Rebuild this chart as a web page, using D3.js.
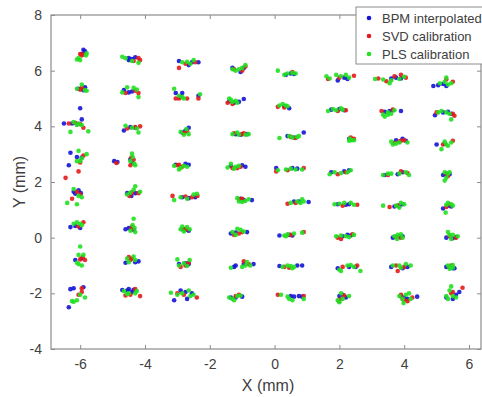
<!DOCTYPE html>
<html>
<head>
<meta charset="utf-8">
<script src="https://cdn.jsdelivr.net/npm/d3@7"></script>
<style>
  body { margin: 0; background: #fff; }
  svg { display: block; font-family: "Liberation Sans", Arial, sans-serif; }
</style>
</head>
<body>
<svg id="chart" width="482" height="397"></svg>
<script>
var bpm = [
  [-5.9,6.75],[-5.85,6.7],[-5.95,6.6],
  [-6.05,5.35],[-5.85,5.4],[-5.9,5.3],
  [-6.5,4.1],[-6.0,4.65],[-5.95,4.25],[-6.25,4.1],[-6.1,4.08],
  [-6.3,3.05],[-6.35,2.6],[-6.1,2.9],[-5.95,2.88],
  [-6.2,1.65],[-6.05,1.7],[-5.98,1.6],[-6.15,1.58],
  [-6.3,0.38],[-6.15,0.42],[-6.0,0.35],
  [-6.15,-0.8],[-5.95,-0.75],
  [-6.3,-1.85],[-6.2,-1.82],[-5.9,-1.78],[-6.35,-2.5],
  [-4.5,6.38],[-4.4,6.42],[-4.3,6.48],[-4.5,6.45],
  [-4.65,5.3],[-4.5,5.22],[-4.4,5.25],
  [-4.65,3.85],[-4.45,3.97],[-4.3,3.95],
  [-4.95,2.75],[-4.85,2.72],[-4.45,2.82],[-4.4,2.7],
  [-4.55,1.6],[-4.42,1.5],[-4.3,1.6],
  [-4.6,0.3],[-4.5,0.35],[-4.35,0.28],
  [-4.6,-0.9],[-4.3,-0.88],[-4.2,-0.85],
  [-4.7,-1.88],[-4.5,-1.85],[-4.35,-1.87],[-4.55,-1.9],[-4.4,-1.95],
  [-2.95,6.35],[-2.65,6.2],[-2.55,6.3],[-2.35,6.3],
  [-3.05,5.2],[-2.85,5.2],[-2.9,5.05],[-2.35,5.1],
  [-2.75,3.85],[-2.65,3.95],[-2.85,3.78],
  [-3.05,2.62],[-2.75,2.65],[-2.65,2.62],
  [-2.85,1.45],[-2.65,1.42],[-2.45,1.45],
  [-2.85,0.3],[-2.65,0.25],[-2.75,0.28],
  [-2.95,-0.95],[-2.65,-0.95],[-2.75,-0.92],
  [-2.9,-1.9],[-3.1,-2.25],[-2.7,-2.2],[-2.75,-1.95],[-2.55,-2.0],
  [-1.3,6.1],[-1.05,5.95],[-0.95,6.1],
  [-1.25,4.85],[-1.1,4.88],[-0.95,4.98],[-1.4,4.9],
  [-1.2,3.72],[-0.85,3.72],[-1.05,3.7],
  [-1.35,2.58],[-1.0,2.6],[-0.9,2.55],
  [-1.05,1.4],[-0.7,1.35],[-0.95,1.35],
  [-1.35,0.15],[-1.2,0.18],[-0.85,0.2],
  [-1.25,-1.05],[-1.2,-1.0],[-0.95,-0.95],[-0.65,-0.95],
  [-1.35,-2.15],[-1.2,-2.15],[-1.0,-2.12],
  [0.35,5.85],[0.5,5.9],[0.6,5.88],
  [0.45,4.65],[0.3,4.72],
  [0.4,3.65],[0.9,3.78],[0.6,3.6],
  [0.05,2.5],[0.55,2.5],[0.7,2.48],
  [0.6,1.3],[0.75,1.3],[1.05,1.28],
  [0.15,0.08],[0.45,0.1],[0.55,0.08],
  [0.15,-1.02],[0.7,-1.0],[0.85,-1.0],
  [0.5,-2.1],[0.6,-2.12],[0.75,-2.1],[0.85,-2.12],
  [1.95,5.65],[2.15,5.75],[2.25,5.7],
  [1.75,4.6],[2.0,4.62],[2.15,4.58],
  [2.3,3.55],[2.4,3.52],
  [1.75,2.35],[2.15,2.38],[2.3,2.42],
  [1.95,1.2],[2.2,1.18],[2.3,1.2],
  [2.1,0.05],[2.25,0.1],[2.35,0.08],
  [1.95,-1.1],[2.3,-1.05],[2.5,-1.05],
  [2.0,-2.1],[2.1,-2.05],[2.2,-2.15],
  [3.6,5.72],[3.75,5.75],[3.9,5.72],
  [3.4,4.52],[3.55,4.55],[3.65,4.58],[3.9,4.55],
  [3.75,3.5],[3.95,3.55],[4.05,3.48],
  [3.4,2.25],[3.8,2.28],[3.95,2.35],
  [3.7,1.12],[3.85,1.15],[3.95,1.2],
  [3.65,0.0],[3.85,0.02],[3.95,0.05],
  [3.6,-1.05],[3.95,-1.1],[4.1,-1.05],
  [3.9,-2.1],[4.1,-2.2],[4.4,-2.12],[4.0,-2.15],
  [4.9,5.45],[5.05,5.48],[5.2,5.52],[5.3,5.45],
  [4.95,4.4],[5.2,4.5],[5.35,4.52],[5.45,4.45],
  [5.0,3.35],[5.25,3.38],
  [5.2,2.25],[5.3,2.28],[5.4,2.28],
  [5.2,1.05],[5.35,1.15],[5.45,1.12],
  [5.3,0.0],[5.5,-0.02],[5.6,0.02],
  [5.3,-1.05],[5.5,-1.1],[5.55,-1.1],
  [5.3,-2.15],[5.5,-2.2],[5.6,-2.05],[5.7,-1.95]
];

var svd = [
  [-6.0,6.6],[-5.95,6.55],[-5.9,6.58],
  [-6.0,5.32],[-5.95,5.38],
  [-6.35,4.1],[-6.15,4.12],[-5.9,3.95],[-6.0,4.08],
  [-6.45,2.15],[-6.05,2.38],[-5.9,2.95],[-6.0,2.7],
  [-6.1,1.65],[-6.0,1.55],[-6.25,1.4],
  [-5.9,0.55],[-6.05,0.4],
  [-5.85,-0.8],[-5.92,-0.7],[-6.0,-0.78],
  [-5.95,-1.82],[-6.05,-2.05],[-5.95,-1.95],
  [-4.35,6.35],[-4.2,6.45],[-4.15,6.38],
  [-4.6,5.2],[-4.3,5.28],[-4.2,5.2],
  [-4.55,3.92],[-4.3,3.97],[-4.15,4.0],
  [-4.42,2.88],[-4.35,2.8],[-4.45,2.6],[-4.88,2.68],
  [-4.4,1.62],[-4.2,1.6],[-4.48,1.5],
  [-4.4,0.4],[-4.42,0.3],
  [-4.5,-0.7],[-4.4,-0.75],[-4.45,-0.8],
  [-4.45,-2.05],[-4.15,-2.1],[-4.6,-2.08],[-4.3,-1.85],
  [-2.95,6.1],[-2.75,6.25],[-2.45,6.3],
  [-3.05,5.0],[-2.95,5.0],[-2.35,5.0],[-2.7,5.0],
  [-2.7,3.82],[-2.8,3.75],
  [-2.95,2.62],[-2.85,2.55],[-3.0,2.6],
  [-3.15,1.5],[-2.75,1.48],[-2.55,1.45],[-2.38,1.5],
  [-2.8,0.32],[-2.7,0.3],
  [-2.9,-1.05],[-2.75,-1.0],[-2.65,-0.9],
  [-3.0,-2.0],[-2.4,-2.15],[-2.8,-2.05],
  [-1.25,6.05],[-1.0,6.0],[-0.9,6.15],
  [-1.45,4.85],[-1.3,4.8],
  [-1.25,3.75],[-1.0,3.72],[-0.95,3.75],
  [-1.3,2.5],[-1.15,2.5],[-1.05,2.55],
  [-1.0,1.4],[-1.1,1.38],
  [-1.1,0.15],[-1.0,0.2],[-1.25,0.1],
  [-0.95,-0.85],[-0.8,-0.95],
  [-1.2,-2.1],[-1.1,-2.05],
  [0.55,5.95],
  [0.1,4.7],[0.3,4.68],
  [0.65,3.58],[0.5,3.62],
  [0.05,2.38],[0.4,2.42],[0.9,2.5],
  [0.4,1.22],[0.65,1.25],
  [0.5,0.1],[0.9,0.2],
  [0.45,-1.08],[0.3,-1.05],
  [0.1,-2.05],[0.9,-2.1],
  [1.65,5.7],[2.45,5.82],[2.0,5.75],
  [1.95,4.55],[2.2,4.58],
  [2.35,3.6],[2.45,3.55],
  [1.95,2.28],[2.2,2.35],
  [2.1,1.15],[2.55,1.18],
  [1.95,0.0],[2.05,-0.05],[2.4,0.12],
  [2.1,-1.05],[2.55,-1.0],
  [2.05,-2.2],[1.98,-2.28],[2.15,-2.08],
  [3.2,5.72],[3.45,5.62],[3.9,5.85],[4.05,5.75],[3.7,5.8],
  [3.3,4.55],[3.65,4.6],
  [3.7,3.4],[3.85,3.45],[3.9,3.48],[4.0,3.5],
  [3.5,2.25],[3.9,2.38],[4.1,2.32],
  [3.55,1.1],[3.8,1.15],
  [3.75,0.03],[3.9,0.0],
  [3.8,-1.2],[3.75,-1.0],[4.0,-1.05],
  [3.9,-2.05],[4.0,-2.25],[4.1,-2.28],[4.25,-2.15],[3.95,-2.2],
  [5.3,5.68],[5.5,5.6],
  [5.0,4.5],[5.5,4.45],[5.55,4.38],
  [5.2,3.35],[5.5,3.48],
  [5.3,2.3],[5.35,2.22],
  [5.3,1.1],[5.4,1.2],
  [5.4,0.05],[5.6,0.0],
  [5.4,-1.05],[5.45,-1.0],
  [5.45,-2.0],[5.5,-1.95],[5.8,-1.8]
];

var pls = [
  [-6.1,6.4],[-6.05,6.45],[-5.8,6.62],[-5.82,6.55],[-6.0,6.38],
  [-5.95,5.5],[-5.85,5.3],[-6.1,5.35],[-5.8,5.28],
  [-6.3,3.8],[-5.75,3.82],[-6.2,4.15],[-6.05,4.1],[-5.95,4.05],[-6.1,4.05],
  [-6.05,3.12],[-5.8,3.0],[-6.1,2.75],[-6.0,2.75],[-5.95,2.85],
  [-6.4,1.25],[-6.1,1.2],[-6.2,1.75],[-5.95,1.45],[-6.05,1.5],
  [-6.2,0.5],[-6.1,0.55],[-5.95,0.45],[-6.0,0.5],
  [-6.0,-0.32],[-6.05,-0.62],[-5.9,-0.62],[-6.05,-0.95],[-5.95,-1.0],[-6.1,-0.9],
  [-6.2,-2.3],[-6.25,-2.28],[-6.1,-2.25],[-5.85,-2.15],[-6.0,-2.05],
  [-4.7,6.5],[-4.6,6.45],[-4.2,6.28],[-4.4,6.35],
  [-4.55,5.4],[-4.35,5.38],[-4.2,5.05],[-4.7,5.22],[-4.25,5.32],
  [-4.6,4.02],[-4.4,3.95],[-4.25,3.92],[-4.2,3.78],
  [-4.4,3.02],[-4.3,2.6],[-4.45,2.75],[-4.38,2.9],[-4.33,2.65],
  [-4.3,1.85],[-4.55,1.55],[-4.35,1.72],[-4.15,1.65],[-4.45,1.62],
  [-4.35,0.68],[-4.45,0.25],[-4.3,0.2],[-4.38,0.45],[-4.32,0.35],
  [-4.55,-0.75],[-4.35,-0.68],[-4.3,-0.8],[-4.5,-0.88],
  [-4.65,-1.92],[-4.5,-2.0],[-4.25,-1.92],[-4.3,-2.0],[-4.55,-2.02],
  [-2.85,6.3],[-2.6,6.25],[-2.5,6.38],[-2.7,6.32],
  [-3.1,5.35],[-2.8,5.0],[-2.95,5.1],[-2.3,5.15],[-2.85,5.05],
  [-2.9,3.8],[-2.8,3.7],[-2.65,3.72],[-2.72,3.9],
  [-3.1,2.58],[-2.9,2.5],[-2.8,2.58],[-2.7,2.55],[-2.95,2.45],
  [-3.1,1.35],[-2.9,1.45],[-2.7,1.4],[-2.5,1.55],[-2.4,1.58],
  [-2.9,0.3],[-2.7,0.38],[-2.85,0.4],[-2.62,0.3],[-2.8,0.22],
  [-3.0,-0.78],[-2.62,-0.8],[-2.95,-1.0],[-2.8,-0.92],[-2.7,-1.02],
  [-3.2,-1.98],[-3.0,-2.05],[-2.85,-2.0],[-2.6,-2.1],[-2.5,-2.05],[-2.65,-1.9],
  [-1.2,6.0],[-1.1,6.05],[-0.9,6.2],[-1.0,6.1],[-1.3,6.05],
  [-1.4,5.0],[-1.35,4.95],[-1.2,4.92],[-1.3,4.88],[-1.15,4.85],
  [-1.3,3.72],[-1.1,3.7],[-0.9,3.7],[-1.15,3.78],[-0.8,3.72],
  [-1.45,2.52],[-1.35,2.65],[-1.2,2.55],[-1.1,2.58],[-1.25,2.48],
  [-1.1,1.3],[-0.9,1.32],[-0.8,1.38],[-1.0,1.28],[-1.15,1.42],
  [-1.3,0.2],[-1.15,0.32],[-1.2,0.1],[-0.95,0.22],[-1.05,0.28],
  [-1.35,-1.08],[-1.0,-1.05],[-0.9,-1.0],[-0.85,-0.88],[-0.75,-1.0],
  [-1.4,-2.15],[-1.3,-2.2],[-1.15,-2.1],[-1.05,-2.08],[-1.25,-2.25],
  [0.1,6.0],[0.4,5.9],[0.55,5.92],[0.65,5.9],[0.3,5.85],
  [0.15,4.75],[0.25,4.8],[0.4,4.72],[0.35,4.75],
  [0.15,3.58],[0.45,3.65],[0.55,3.6],[0.7,3.62],[0.75,3.65],
  [0.1,2.42],[0.35,2.45],[0.5,2.48],[0.65,2.45],[0.85,2.45],
  [0.5,1.25],[0.7,1.3],[0.85,1.38],[0.9,1.3],[0.8,1.25],
  [0.3,0.08],[0.4,0.12],[0.6,0.15],[0.85,0.18],[0.35,0.05],
  [0.25,-1.05],[0.5,-1.02],[0.6,-1.05],[0.4,-1.0],[0.55,-1.1],
  [0.2,-2.05],[0.45,-2.2],[0.55,-2.25],[0.9,-2.2],[0.4,-2.12],
  [1.6,5.8],[1.9,5.85],[2.05,5.8],[2.2,5.85],[2.3,5.75],[1.7,5.72],
  [1.65,4.55],[1.8,4.62],[2.05,4.65],[2.1,4.6],[1.9,4.58],
  [2.3,3.48],[2.38,3.5],[2.45,3.5],[2.32,3.55],
  [1.7,2.28],[1.85,2.35],[2.05,2.32],[2.25,2.35],[2.35,2.42],
  [1.85,1.2],[2.0,1.22],[2.15,1.25],[2.35,1.25],[2.45,1.18],
  [1.9,0.05],[2.05,0.08],[2.2,0.05],[2.45,0.1],[2.3,0.02],
  [2.0,-1.15],[2.05,-1.2],[2.25,-1.0],[2.35,-0.98],[2.65,-1.2],[2.45,-1.05],
  [1.95,-2.25],[2.0,-2.32],[2.1,-2.2],[2.3,-2.1],[2.05,-2.0],
  [3.1,5.7],[3.35,5.68],[3.55,5.55],[3.85,5.7],[4.0,5.78],[3.6,5.65],
  [3.35,4.42],[3.4,4.35],[3.5,4.5],[3.6,4.45],[3.7,4.58],[3.5,4.42],
  [3.6,3.45],[3.65,3.35],[3.75,3.38],[3.85,3.42],[4.1,3.42],
  [3.35,2.25],[3.6,2.3],[3.85,2.3],[4.15,2.25],[4.05,2.35],[3.5,2.3],
  [3.35,1.15],[3.75,1.15],[3.9,1.25],[4.0,1.2],[3.85,1.08],
  [3.7,0.05],[3.8,0.1],[3.9,0.12],[3.95,0.0],[3.78,-0.05],
  [3.65,-1.0],[3.85,-1.0],[4.05,-0.95],[4.2,-1.0],[3.9,-1.08],
  [3.85,-2.1],[3.95,-2.2],[4.05,-2.05],[4.15,-2.0],[4.2,-2.2],[3.98,-2.35],
  [5.1,5.55],[5.25,5.6],[5.3,5.75],[5.45,5.55],[5.35,5.5],
  [5.15,4.55],[5.3,4.5],[5.45,4.25],[5.4,4.45],[5.05,4.5],
  [5.15,3.18],[5.3,3.35],[5.35,3.3],[5.45,3.42],[5.25,3.45],
  [5.25,2.35],[5.3,2.15],[5.35,2.3],[5.25,2.05],[5.4,2.35],
  [5.3,1.18],[5.35,1.25],[5.45,1.2],[5.28,0.9],[5.5,1.15],
  [5.35,0.2],[5.4,0.1],[5.5,0.1],[5.65,0.05],[5.45,-0.05],
  [5.35,-1.0],[5.45,-1.05],[5.5,-1.08],[5.4,-1.12],[5.5,-0.98],
  [5.3,-2.1],[5.45,-1.75],[5.35,-2.2],[5.5,-2.1],[5.4,-1.9],[5.6,-2.15]
];

var seriesNames = ["BPM interpolated", "SVD calibration", "PLS calibration"];
var seriesColors = ["#1414d8", "#e41a1a", "#22e022"];
var xTicks = [-6, -4, -2, 0, 2, 4, 6];
var yTicks = [-4, -2, 0, 2, 4, 6, 8];

var svg = d3.select("#chart");
var mLeft = 51, mRight = 481, mTop = 15, mBottom = 349;

var x = d3.scaleLinear().domain([-6.9, 6.37]).range([mLeft, mRight]);
var y = d3.scaleLinear().domain([-4, 8]).range([mBottom, mTop]);

var axisColor = "#8c8c8c", textColor = "#404040";
var fmt = function(d) { return String(d); };   // plain hyphen minus, like the original

// box
svg.append("rect")
    .attr("x", mLeft).attr("y", mTop)
    .attr("width", mRight - mLeft).attr("height", mBottom - mTop)
    .attr("fill", "none").attr("stroke", axisColor).attr("stroke-width", 1.2);

// axes with inward ticks
function styleAxis(g) {
    g.select(".domain").remove();
    g.selectAll(".tick line").attr("stroke", axisColor);
    g.selectAll(".tick text").attr("fill", textColor).style("font-size", "14px")
        .style("font-family", '"Liberation Sans", Arial, sans-serif');
}
svg.append("g").attr("transform", "translate(0," + mBottom + ")")
    .call(d3.axisBottom(x).tickValues(xTicks).tickFormat(fmt).tickSizeInner(-4).tickPadding(10))
    .call(styleAxis);
svg.append("g").attr("transform", "translate(0," + mTop + ")")
    .call(d3.axisTop(x).tickValues(xTicks).tickSizeInner(-4).tickFormat(""))
    .call(styleAxis);
svg.append("g").attr("transform", "translate(" + mLeft + ",0)")
    .call(d3.axisLeft(y).tickValues(yTicks).tickFormat(fmt).tickSizeInner(-4).tickPadding(9))
    .call(styleAxis);
svg.append("g").attr("transform", "translate(" + mRight + ",0)")
    .call(d3.axisRight(y).tickValues(yTicks).tickSizeInner(-4).tickFormat(""))
    .call(styleAxis);

// axis titles
svg.append("text").attr("x", 268).attr("y", 391).attr("text-anchor", "middle")
    .attr("fill", textColor).style("font-size", "16px").text("X (mm)");
svg.append("text").attr("transform", "translate(25,182) rotate(-90)").attr("text-anchor", "middle")
    .attr("fill", textColor).style("font-size", "16px").text("Y (mm)");

// points
[bpm, svd, pls].forEach(function(data, i) {
    svg.append("g").selectAll("circle")
        .data(data)
        .enter().append("circle")
        .attr("cx", function(d) { return x(d[0]); })
        .attr("cy", function(d) { return y(d[1]); })
        .attr("r", 2.3)
        .attr("fill", seriesColors[i])
        .attr("fill-opacity", 0.9);
});

// legend
var legend = svg.append("g").attr("transform", "translate(356,7)");
legend.append("rect").attr("width", 140).attr("height", 57)
    .attr("fill", "#fff").attr("stroke", axisColor).attr("stroke-width", 1);
seriesNames.forEach(function(name, i) {
    var row = legend.append("g").attr("transform", "translate(0," + (11 + i * 18) + ")");
    row.append("circle").attr("cx", 13).attr("cy", 0).attr("r", 2.3).attr("fill", seriesColors[i]);
    row.append("text").attr("x", 26).attr("y", 4.5).attr("fill", textColor)
        .style("font-size", "13px").text(name);
});
</script>
</body>
</html>
